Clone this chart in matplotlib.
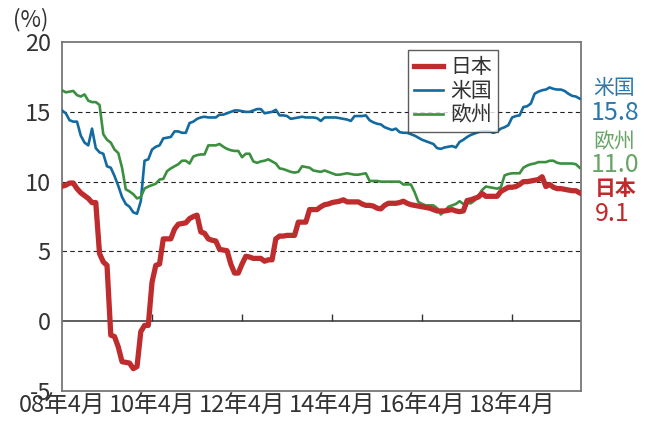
import numpy as np
import matplotlib
matplotlib.use('Agg')
import matplotlib.pyplot as plt
import matplotlib.transforms as mtransforms

plt.rcParams['font.family'] = ['Noto Sans CJK JP', 'DejaVu Sans']

# monthly values, 2008-04 .. 2019-10
japan = [9.67, 9.75, 9.9, 9.9, 9.5, 9.2, 9.0, 8.8, 8.5, 8.5,
         4.85, 4.25, 4.0, -1.0, -1.1, -1.85, -2.9, -2.95, -3.0, -3.4,
         -3.25, -0.75, -0.3, -0.3, 2.8, 4.0, 4.1, 5.9, 5.9, 5.9,
         6.6, 6.95, 7.0, 7.05, 7.35, 7.5, 7.6, 6.4, 6.3, 5.9,
         5.8, 5.75, 5.15, 5.1, 5.05, 4.1, 3.45, 3.45, 4.1, 4.65,
         4.6, 4.5, 4.5, 4.5, 4.3, 4.4, 4.4, 5.9, 6.1, 6.1,
         6.15, 6.15, 6.15, 7.1, 7.1, 7.1, 8.0, 8.0, 8.0, 8.2,
         8.35, 8.4, 8.5, 8.55, 8.6, 8.7, 8.55, 8.55, 8.55, 8.55,
         8.4, 8.3, 8.3, 8.25, 8.1, 8.05, 8.3, 8.45, 8.45, 8.45,
         8.5, 8.6, 8.45, 8.35, 8.3, 8.25, 8.2, 8.15, 8.1, 8.0,
         7.9, 7.9, 7.9, 7.95, 8.0, 7.9, 7.85, 7.9, 8.65, 8.7,
         8.8, 8.9, 9.15, 8.95, 8.95, 8.95, 8.95, 9.3, 9.45, 9.6,
         9.6, 9.65, 9.8, 10.0, 10.0, 10.05, 10.1, 10.15, 10.35, 9.65,
         9.8, 9.6, 9.5, 9.5, 9.45, 9.4, 9.35, 9.35, 9.2]

usa = [15.1, 14.9, 14.4, 14.3, 14.3, 13.3, 12.8, 12.6, 13.8, 12.4,
       12.1, 12.0, 11.1, 11.0, 10.4, 9.7, 8.9, 8.4, 8.2, 7.8,
       7.7, 8.6, 11.5, 11.6, 12.3, 12.5, 12.6, 13.1, 13.15, 13.2,
       13.6, 13.6, 13.5, 13.5, 14.2, 14.3, 14.5, 14.6, 14.65, 14.6,
       14.6, 14.6, 14.8, 14.8, 14.9, 15.0, 15.1, 15.1, 15.05, 15.0,
       15.0, 15.1, 15.2, 15.2, 14.9, 14.95, 15.0, 15.15, 14.75, 14.75,
       14.7, 14.5, 14.55, 14.6, 14.65, 14.6, 14.6, 14.6, 14.55, 14.35,
       14.6, 14.6, 14.6, 14.6, 14.55, 14.5, 14.45, 14.35, 14.7, 14.7,
       14.7, 14.75, 14.4, 14.25, 14.15, 14.1, 13.9, 13.8, 13.7, 13.8,
       13.55, 13.5, 13.5, 13.4, 13.3, 13.15, 13.0, 12.9, 12.8, 12.7,
       12.4, 12.35, 12.45, 12.5, 12.55, 12.45, 12.85, 13.0, 13.2, 13.35,
       13.45, 13.55, 13.6, 13.6, 13.6, 13.5, 13.6, 13.8, 13.9, 14.05,
       14.6, 14.7, 14.75, 15.35, 15.4, 15.6, 16.3, 16.45, 16.55, 16.6,
       16.75, 16.65, 16.6, 16.6, 16.5, 16.3, 16.15, 16.1, 15.95]

europe = [16.55, 16.4, 16.45, 16.5, 16.2, 16.1, 16.25, 15.8, 15.7, 15.7,
          15.5, 13.4, 13.0, 12.8, 12.3, 12.05, 11.0, 9.45, 9.3, 9.1,
          8.8, 8.9, 9.5, 9.65, 9.75, 9.85, 10.15, 10.2, 10.75, 10.95,
          11.1, 11.25, 11.5, 11.5, 11.3, 11.8, 11.9, 11.95, 11.95, 12.6,
          12.6, 12.6, 12.7, 12.5, 12.35, 12.25, 12.2, 12.2, 11.75, 12.0,
          12.0, 11.45, 11.35, 11.45, 11.5, 11.6, 11.45, 11.3, 10.95, 10.9,
          10.8, 10.7, 10.65, 10.7, 11.1, 11.05, 11.0, 10.8, 10.75, 10.7,
          10.8, 10.7, 10.6, 10.5, 10.5, 10.55, 10.6, 10.55, 10.5, 10.5,
          10.55, 10.6, 10.05, 10.05, 10.05, 10.0, 10.0, 10.0, 10.0, 10.0,
          10.0, 9.8, 9.8, 9.8, 9.25, 8.55, 8.4, 8.3, 8.3, 8.3,
          8.1, 7.65, 7.9, 8.2, 8.3, 8.4, 8.6, 8.4, 8.45, 8.45,
          8.65, 9.0, 9.4, 9.65, 9.6, 9.55, 9.5, 9.6, 10.45, 10.55,
          10.6, 10.6, 10.6, 11.0, 11.15, 11.25, 11.3, 11.4, 11.4, 11.4,
          11.5, 11.5, 11.35, 11.3, 11.3, 11.3, 11.3, 11.25, 11.0]

tick_months = [0, 24, 48, 72, 96, 120]
tick_labels = ['08年4月', '10年4月', '12年4月', '14年4月', '16年4月', '18年4月']
last_vals = {'米国': '15.8', '欧州': '11.0', '日本': '9.1'}

RED = '#bf2c2e'
BLUE = '#126aa0'
GREEN = '#3b8f3f'

months = np.arange(len(japan))

fig = plt.figure(figsize=(6.46, 4.21), dpi=100)
ax = fig.add_axes([0.096, 0.0713, 0.803, 0.8287])

ax.plot(months, japan, color=RED, lw=3.8, label='日本', zorder=4)
ax.plot(months, usa, color=BLUE, lw=1.9, label='米国', zorder=3)
ax.plot(months, europe, color=GREEN, lw=1.9, label='欧州', zorder=3)

ax.set_xlim(0, 138.3)
ax.set_ylim(-5, 20)

for v in [5, 10, 15]:
    ax.axhline(v, color='#222222', lw=0.8, ls=(0, (4, 3)), zorder=1)
ax.axhline(0, color='#333333', lw=1.1, zorder=2)
# small upward ticks sitting on the zero line
ax.vlines(tick_months[1:], 0, 0.5, color='#333333', lw=1.0, zorder=2)

for s in ax.spines.values():
    s.set_color('#777777')
    s.set_linewidth(1.3)

ax.set_yticks([-5, 0, 5, 10, 15, 20])
ax.set_yticklabels(['-5', '0', '5', '10', '15', '20'])
ax.set_xticks(tick_months)
ax.set_xticklabels(tick_labels)
ax.tick_params(axis='both', length=0, labelsize=17, colors='#333333')
ax.tick_params(axis='y', pad=8)
ax.tick_params(axis='x', pad=3)

fig.text(0.048, 0.9525, '(%)', fontsize=16, color='#333333', va='center', ha='center')

leg = ax.legend(loc='upper center', bbox_to_anchor=(0.754, 0.978), fontsize=15,
                frameon=True, fancybox=False, handlelength=1.4, handletextpad=0.35,
                borderpad=0.3, labelspacing=0.1, borderaxespad=0)
leg.get_frame().set_edgecolor('#333333')
leg.get_frame().set_linewidth(1.0)
for t in leg.get_texts():
    t.set_color('#333333')

# end-of-series labels to the right of the plot
trans = mtransforms.blended_transform_factory(ax.transAxes, ax.transData)
ax.text(1.025, 16.25, '米国', color='#2a78ad', fontsize=15, transform=trans, va='baseline')
ax.text(1.02, 14.45, last_vals['米国'], color='#2a78ad', fontsize=18, transform=trans, va='baseline')
ax.text(1.025, 12.4, '欧州', color='#68a566', fontsize=15, transform=trans, va='baseline')
ax.text(1.02, 10.72, last_vals['欧州'], color='#68a566', fontsize=18, transform=trans, va='baseline')
ax.text(1.027, 9.02, '日本', color='#c02a2c', fontsize=15, fontweight='bold', transform=trans, va='baseline')
ax.text(1.027, 7.15, last_vals['日本'], color='#c02a2c', fontsize=18, transform=trans, va='baseline')

fig.savefig('out.png', dpi=100)
